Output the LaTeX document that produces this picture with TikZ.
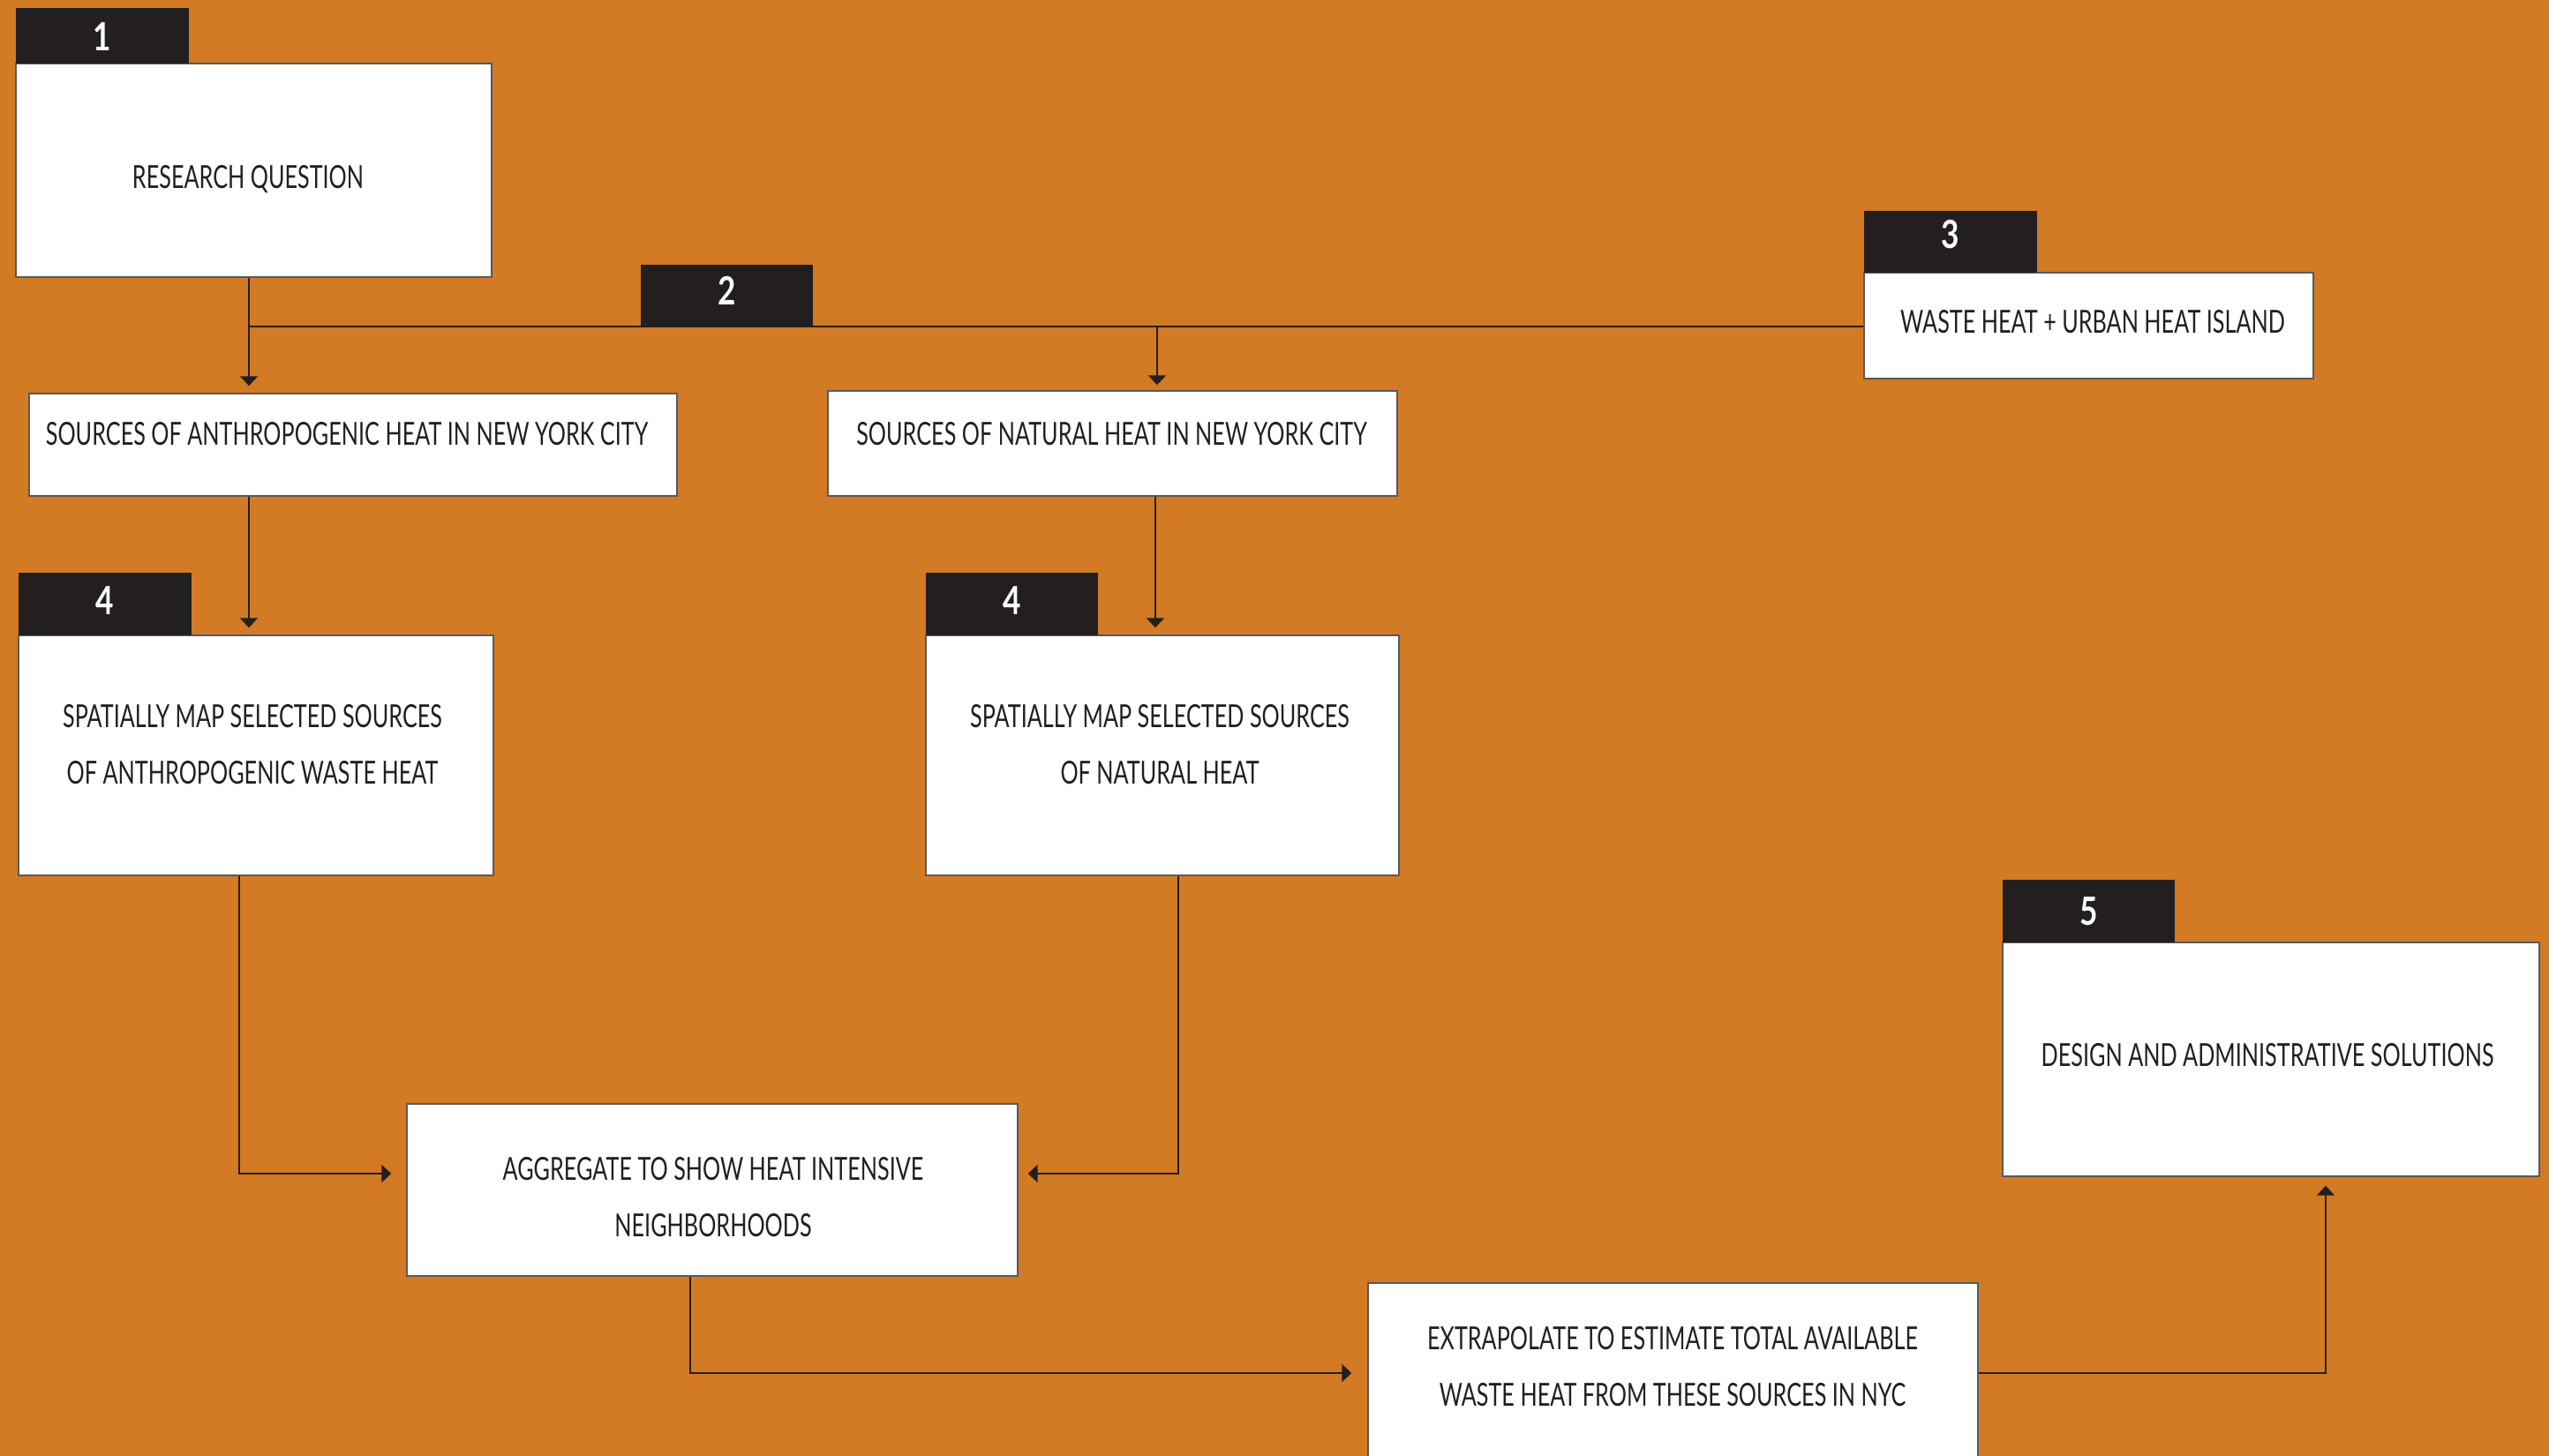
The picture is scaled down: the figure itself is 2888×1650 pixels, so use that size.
\documentclass[tikz,border=0pt]{standalone}
\usepackage{fontspec}
\setmainfont{Lato}[FakeStretch=0.70]
\newfontfamily\numfont{Lato}[FakeStretch=0.8]
\usetikzlibrary{arrows.meta}
\definecolor{bg}{HTML}{D27A24}
\definecolor{ink}{HTML}{231F20}
\definecolor{edge}{HTML}{58595B}
\tikzset{
  box/.style={draw=edge, line width=0.7pt, fill=white, inner sep=0pt},
  tag/.style={fill=ink, inner sep=0pt},
  num/.style={text=white, inner sep=0pt, font=\numfont\bfseries\fontsize{22}{22}\selectfont},
  txt/.style={text=ink, inner sep=0pt, align=center, font=\fontsize{18}{32}\selectfont},
  line/.style={draw=ink, line width=1pt},
  arr/.style={line, -{Triangle[width=10pt,length=5.5pt]}},
}
\begin{document}
\begin{tikzpicture}[x=0.5pt,y=-0.5pt]
\useasboundingbox (0,0) rectangle (2888,1650);
\clip (0,0) rectangle (2888,1650);
\fill[bg] (0,0) rectangle (2888,1650);

% junction coordinates
\coordinate (c1) at (282,370);
\coordinate (c2) at (1311,370);
\coordinate (c3) at (1309,600);
\coordinate (c4) at (271,1330);
\coordinate (c5) at (1335,1330);
\coordinate (c6) at (782,1556);
\coordinate (c7) at (2635,1556);

% boxes
\node[box, minimum width=269.5pt, minimum height=121pt] (q) at (287.5,193) {};
\node[box, minimum width=367pt, minimum height=58pt] (anthro) at (400,504) {};
\node[box, minimum width=322.5pt, minimum height=59.5pt] (natural) at (1260.5,502.5) {};
\node[box, minimum width=254.5pt, minimum height=60pt] (waste) at (2366.5,369) {};
\node[box, minimum width=269pt, minimum height=136pt] (map1) at (290,856) {};
\node[box, minimum width=268pt, minimum height=136pt] (map2) at (1317,856) {};
\node[box, minimum width=346pt, minimum height=97.5pt] (agg) at (807,1348.5) {};
\node[box, minimum width=345.5pt, minimum height=103pt] (extrap) at (1895.5,1557) {};
\node[box, minimum width=304pt, minimum height=132.5pt] (design) at (2573,1200.5) {};

% connectors
\draw[arr, shorten >=4pt] (q.south -| c1) -- (anthro.north -| c1);
\draw[line] (c1) -- (c1 -| waste.west);
\draw[arr, shorten >=3pt] (c2) -- (natural.north -| c2);
\draw[arr, shorten >=4pt] (anthro.south -| c1) -- (map1.north -| c1);
\draw[arr, shorten >=4pt] (natural.south -| c3) -- (map2.north -| c3);
\draw[arr, shorten >=8.5pt] (map1.south -| c4) |- (agg.west |- c4);
\draw[arr, shorten >=5.5pt] (map2.south -| c5) |- (agg.east |- c5);
\draw[arr, shorten >=9pt] (agg.south -| c6) |- (extrap.west |- c6);
\draw[arr, shorten >=5pt] (extrap.east |- c7) -| (design.south -| c7);

% number tags
\node[tag, minimum width=98pt, minimum height=31.5pt, label={[num,yshift=-0.5pt]center:1}] (t1) at (116,40.5) {};
\node[tag, minimum width=97.5pt, minimum height=35pt, label={[num,yshift=3pt]center:2}] (t2) at (823.5,335) {};
\node[tag, minimum width=98pt, minimum height=35pt, label={[num,yshift=4.25pt]center:3}] (t3) at (2210,274) {};
\node[tag, minimum width=98pt, minimum height=35.5pt, label={[num,yshift=1.75pt]center:4}] (t4a) at (119,684.5) {};
\node[tag, minimum width=97.5pt, minimum height=35.5pt, label={[num,yshift=1.75pt]center:4}] (t4b) at (1146.5,684.5) {};
\node[tag, minimum width=97.5pt, minimum height=35.5pt, label={[num]center:5}] (t5) at (2366.5,1032.5) {};

% texts
\node[txt] (lq) at (281,203) {RESEARCH QUESTION};
\node[txt] (lanthro) at (393,492) {SOURCES OF ANTHROPOGENIC HEAT IN NEW YORK CITY};
\node[txt] (lnatural) at (1259.5,492) {SOURCES OF NATURAL HEAT IN NEW YORK CITY};
\node[txt] (lwaste) at (2371,364.5) {WASTE HEAT + URBAN HEAT ISLAND};
\node[txt] (lmap1) at (286,844) {SPATIALLY MAP SELECTED SOURCES\\OF ANTHROPOGENIC WASTE HEAT};
\node[txt] (lmap2) at (1314,844) {SPATIALLY MAP SELECTED SOURCES\\OF NATURAL HEAT};
\node[txt] (lagg) at (808,1357) {AGGREGATE TO SHOW HEAT INTENSIVE\\NEIGHBORHOODS};
\node[txt] (lextrap) at (1895,1548.5) {EXTRAPOLATE TO ESTIMATE TOTAL AVAILABLE\\WASTE HEAT FROM THESE SOURCES IN NYC};
\node[txt] (ldesign) at (2569,1196) {DESIGN AND ADMINISTRATIVE SOLUTIONS};
\end{tikzpicture}
\end{document}
